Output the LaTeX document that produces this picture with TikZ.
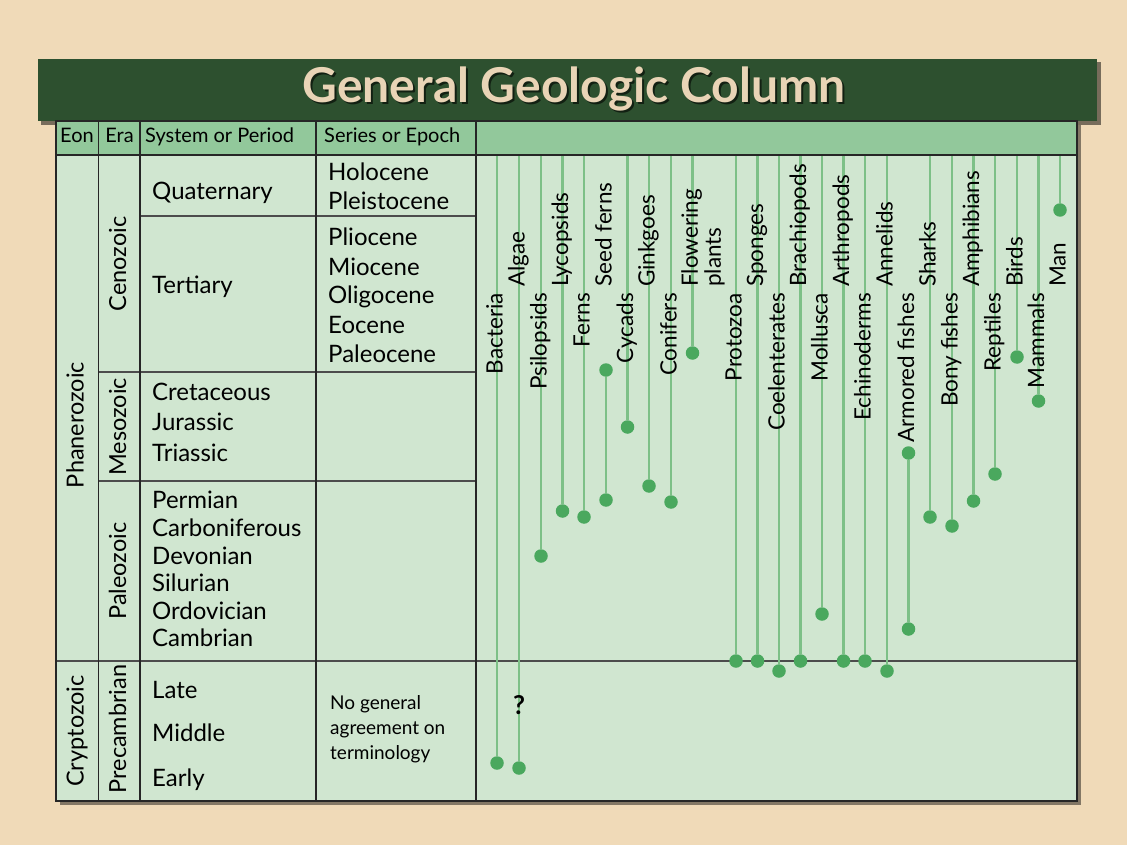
\documentclass[tikz,border=0pt]{standalone}
\usepackage{fontspec}
\setmainfont{Lato}
\usetikzlibrary{positioning,calc}
\definecolor{paper}{RGB}{240,218,184}
\definecolor{moss}{RGB}{45,80,47}
\definecolor{headgreen}{RGB}{146,200,155}
\definecolor{bodygreen}{RGB}{208,230,208}
\definecolor{lifegreen}{RGB}{125,192,135}
\definecolor{dotgreen}{RGB}{74,168,94}
\definecolor{titlebeige}{RGB}{233,212,182}
\tikzset{
  frame/.style={draw=black!85, line width=2.2pt},
  divider/.style={draw=black!85, line width=1.8pt},
  rule/.style={draw=black!70, line width=1.4pt},
  life/.style={draw=lifegreen, line width=2.2pt},
  fossil/.style={circle, fill=dotgreen, inner sep=0pt, minimum size=13.5pt},
  head/.style={font=\fontsize{20}{22}\selectfont, inner sep=0pt, text height=14pt, text depth=4pt},
  cell/.style={font=\fontsize{24}{28}\selectfont, inner sep=0pt, anchor=west, text height=17pt, text depth=5pt},
  eratext/.style={font=\fontsize{23.5}{28}\selectfont, rotate=90, inner sep=0pt, text height=17pt, text depth=5pt},
  taxon/.style={font=\fontsize{22.5}{23}\selectfont, rotate=90, inner sep=0pt},
  note/.style={font=\fontsize{19}{25}\selectfont, align=left, inner sep=0pt, anchor=west}
}

\begin{document}
\begin{tikzpicture}[x=1pt,y=-1pt]
  \fill[paper] (0,0) rectangle (1127,845);
  \useasboundingbox (0,0) rectangle (1127,845);
  % title banner
  \fill[black,opacity=0.5] (41,62) rectangle (1101,125);
  \fill[moss] (38,59) rectangle (1097,121);
  \node[font=\fontsize{48}{52}\selectfont\bfseries, text=black, opacity=0.6, anchor=base] (titleshade) at (576,105) {General Geologic Column};
  \node[font=\fontsize{48}{52}\selectfont\bfseries, text=titlebeige, anchor=base] (title) at (574,103) {General Geologic Column};
  % table body
  \fill[black,opacity=0.45] (60,125) rectangle (1081,805);
  \fill[bodygreen] (56,121) rectangle (1077,801);
  \fill[headgreen] (56,121) rectangle (1077,155);
  \draw[rule] (140,216)--(476,216);
  \draw[rule] (98.5,372)--(476,372);
  \draw[rule] (98.5,481)--(476,481);
  \draw[rule] (56,661)--(1077,661);
  \draw[divider] (56,155)--(1077,155);
  \foreach \x in {98.5,140,316,476}{\draw[divider] (\x,121)--(\x,801);}
  \draw[frame] (56,121) rectangle (1077,801);
  % header
  \node[head] (eon) at (77,138) {Eon};
  \node[head] (era) at (119.5,138) {Era};
  \node[head,anchor=west] (period) at (145,138) {System or Period};
  \node[head,anchor=west] (epoch) at (324,138) {Series or Epoch};
  % eons and eras
  \node[eratext] (phan) at (77.5,425) {Phanerozoic};
  \node[eratext] (crypt) at (77.5,731) {Cryptozoic};
  \node[eratext] (ceno) at (120,264) {Cenozoic};
  \node[eratext] (meso) at (120,427) {Mesozoic};
  \node[eratext] (paleo) at (120,571) {Paleozoic};
  \node[eratext] (precam) at (120,729) {Precambrian};
  % periods and epochs
  \foreach \n/\t/\y in {quat/Quaternary/194,tert/Tertiary/287,cret/Cretaceous/394,jur/Jurassic/424,tri/Triassic/455,
    perm/Permian/502,carb/Carboniferous/530,dev/Devonian/558,sil/Silurian/585,ord/Ordovician/613,camb/Cambrian/640,
    late/Late/692,mid/Middle/735,early/Early/780}
    \node[cell] (\n) at (152,\y) {\t};
  \foreach \n/\t/\y in {holo/Holocene/175,pleist/Pleistocene/204,plio/Pliocene/239,mio/Miocene/269,
    oligo/Oligocene/297,eo/Eocene/327,paleoc/Paleocene/356}
    \node[cell] (\n) at (328,\y) {\t};
  \node[note] (noterm) at (330,729) {No general\\agreement on\\terminology};
  % ranges of the groups
  \foreach \n/\x/\lab/\anc/\ylab/\ydot in {
    bact/497/Bacteria/east/293/763, alg/519/Algae/west/287/768, psil/541/Psilopsids/east/293/556,
    lyco/562.5/Lycopsids/west/287/511, fern/584/Ferns/east/293/517, cyc/627.5/Cycads/east/293/427,
    gink/649/Ginkgoes/west/287/486, conif/671/Conifers/east/293/502, prot/736/Protozoa/east/293/661,
    spon/757.5/Sponges/west/287/661, coel/779/Coelenterates/east/293/671, brach/800.5/Brachiopods/west/287/661,
    moll/822/Mollusca/east/293/614, arth/843.5/Arthropods/west/287/661, echi/865/Echinoderms/east/293/661,
    anne/887/Annelids/west/287/671, shark/930/Sharks/west/287/517, bony/952/Bony fishes/east/293/526,
    amph/973.5/Amphibians/west/287/501, rept/995/Reptiles/east/293/474, bird/1017/Birds/west/287/357,
    mamm/1038.5/Mammals/east/293/401, man/1060/Man/west/287/210}{
    \coordinate (\n top) at (\x,156.5);
    \node[fossil] (\n) at (\x,\ydot) {};
    \draw[life] (\n top)--(\n);
    \node[taxon,anchor=\anc,text height=16pt,text depth=5pt] (\n lab) at (\x,\ylab) {\lab};
  }
  \coordinate (flowtop) at (692.5,156.5);
  \node[fossil] (flow) at (692.5,353) {};
  \draw[life] (flowtop)--(flow);
  \node[taxon,align=left,anchor=west] (flowlab) at (703,287) {Flowering\\plants};
  % extinct groups
  \node[fossil] (seedtop) at (606,370) {};
  \node[fossil] (seed) at (606,500) {};
  \draw[life] (seedtop)--(seed);
  \node[taxon,anchor=west,text height=16pt,text depth=5pt] (seedlab) at (606,287) {Seed ferns};
  \node[fossil] (armtop) at (908.5,453) {};
  \node[fossil] (arm) at (908.5,629) {};
  \draw[life] (armtop)--(arm);
  \node[taxon,anchor=east,text height=16pt,text depth=5pt] (armlab) at (908.5,293) {Armored fishes};
  \node[font=\fontsize{26}{28}\selectfont\bfseries] (query) at (519,705) {?};
\end{tikzpicture}
\end{document}
